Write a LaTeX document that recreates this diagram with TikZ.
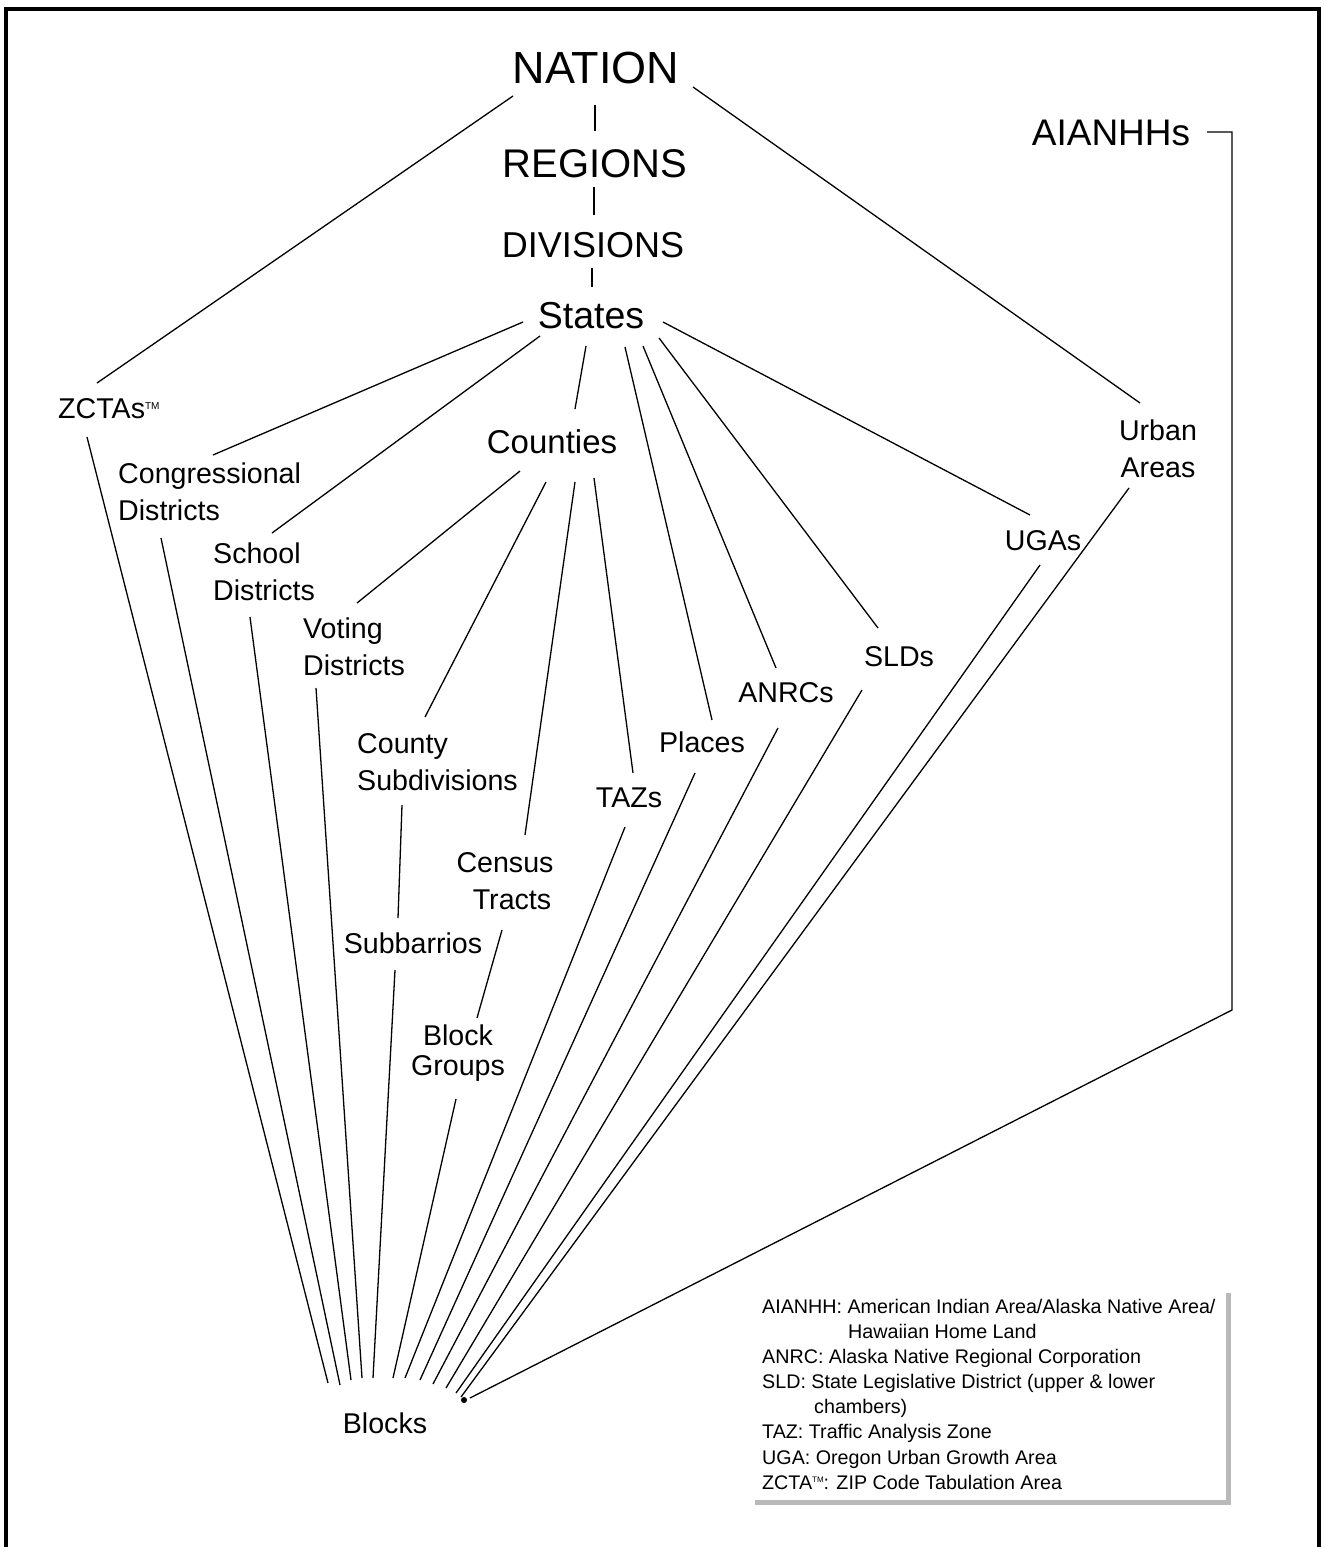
\documentclass[tikz,border=0pt]{standalone}
\usepackage{fontspec}
\setmainfont{Liberation Sans}
\begin{document}
\begin{tikzpicture}[x=1pt,y=-1pt,
  lbl/.style={inner sep=0pt, font=\fontsize{28.6}{37}\selectfont},
  ln/.style={line width=1.3pt, black},
  framestyle/.style={line width=3.5pt, black},
  shadowstyle/.style={line width=5pt, gray!55}]
\useasboundingbox (0,0) rectangle (1323,1547);
\fill[white] (0,0) rectangle (1323,1547);
% frame
\draw[framestyle] (6,1547) -- (6,9) -- (1319,9) -- (1319,1547);

% top hierarchy
\node[lbl, font=\fontsize{45}{50}\selectfont, anchor=base] (nation) at (596,83) {NATION};
\node[lbl, font=\fontsize{40}{44}\selectfont, anchor=base] (regions) at (595,177) {REGIONS};
\node[lbl, font=\fontsize{36}{40}\selectfont, anchor=base] (divisions) at (593,257) {DIVISIONS};
\node[lbl, font=\fontsize{37.5}{40}\selectfont, anchor=base] (states) at (591,328) {States};
\node[lbl, font=\fontsize{33}{36}\selectfont, anchor=base] (counties) at (552,453) {Counties};
\node[lbl, font=\fontsize{37}{40}\selectfont, anchor=base] (aianhh) at (1111,145) {AIANHHs};

% second level labels
\node[lbl, anchor=base west] (zcta) at (58,418) {ZCTAs\raisebox{9pt}{\fontsize{10}{10}\selectfont TM}};
\node[lbl, anchor=north west, align=left] (cong) at (118,463) {Congressional\\Districts};
\node[lbl, anchor=north west, align=left] (school) at (213,543) {School\\Districts};
\node[lbl, anchor=north west, align=left] (voting) at (303,618) {Voting\\Districts};
\node[lbl, anchor=north west, align=left] (csub) at (357,733) {County\\Subdivisions};
\node[lbl, anchor=north, align=center] (tracts) at (505,852) {Census\\\hspace*{14pt}Tracts};
\node[lbl, anchor=base] (subb) at (413,953) {Subbarrios};
\node[lbl, anchor=north, align=center, font=\fontsize{28.6}{30}\selectfont] (bg) at (458,1025) {Block\\Groups};
\node[lbl, anchor=base] (tazs) at (629,807) {TAZs};
\node[lbl, anchor=base] (places) at (702,752) {Places};
\node[lbl, anchor=base] (anrcs) at (786,702) {ANRCs};
\node[lbl, anchor=base] (slds) at (899,666) {SLDs};
\node[lbl, anchor=base] (ugas) at (1043,550) {UGAs};
\node[lbl, anchor=north, align=center] (urban) at (1158,420) {Urban\\Areas};
\node[lbl, anchor=base] (blocks) at (385,1433) {Blocks};

% vertical chain
\draw[ln] ([shift={(-1,22)}]nation.base) -- ([shift={(0,-46)}]regions.base);
\draw[ln] ([shift={(-1,10)}]regions.base) -- ([shift={(1,-42)}]divisions.base);
\draw[ln] ([shift={(-1,11)}]divisions.base) -- ([shift={(1,-41)}]states.base);

% from nation
\draw[ln] ([shift={(-83,13)}]nation.base) -- ([shift={(39,-35)}]zcta.base west);
\draw[ln] ([shift={(97,4)}]nation.base) -- ([shift={(-18,-17)}]urban.north);

% from states
\draw[ln] ([shift={(-68,-6)}]states.base) -- ([shift={(95,-8)}]cong.north west);
\draw[ln] ([shift={(-51,8)}]states.base) -- ([shift={(59,-10)}]school.north west);
\draw[ln] ([shift={(-5,18)}]states.base) -- ([shift={(23,-44)}]counties.base);
\draw[ln] ([shift={(34,19)}]states.base) -- ([shift={(10,-32)}]places.base);
\draw[ln] ([shift={(52,18)}]states.base) -- ([shift={(-10,-34)}]anrcs.base);
\draw[ln] ([shift={(68,10)}]states.base) -- ([shift={(-21,-38)}]slds.base);
\draw[ln] ([shift={(72,-6)}]states.base) -- ([shift={(-13,-35)}]ugas.base);

% from counties
\draw[ln] ([shift={(-32,18)}]counties.base) -- ([shift={(54,-15)}]voting.north west);
\draw[ln] ([shift={(-6,29)}]counties.base) -- ([shift={(68,-16)}]csub.north west);
\draw[ln] ([shift={(23,29)}]counties.base) -- ([shift={(20,-17)}]tracts.north);
\draw[ln] ([shift={(42,25)}]counties.base) -- ([shift={(4,-34)}]tazs.base);

% intermediate
\draw[ln] ([shift={(45,72)}]csub.north west) -- ([shift={(-15,-35)}]subb.base);
\draw[ln] ([shift={(-3,78)}]tracts.north) -- ([shift={(19,-7)}]bg.north);

% to blocks
\draw[ln] ([shift={(29,19)}]zcta.base west) -- ([shift={(-57,-50)}]blocks.base);
\draw[ln] ([shift={(43,75)}]cong.north west) -- ([shift={(-45,-48)}]blocks.base);
\draw[ln] ([shift={(37,74)}]school.north west) -- ([shift={(-34,-53)}]blocks.base);
\draw[ln] ([shift={(13,70)}]voting.north west) -- ([shift={(-23,-55)}]blocks.base);
\draw[ln] ([shift={(-18,17)}]subb.base) -- ([shift={(-12,-55)}]blocks.base);
\draw[ln] ([shift={(-2,74)}]bg.north) -- ([shift={(8,-55)}]blocks.base);
\draw[ln] ([shift={(-4,20)}]tazs.base) -- ([shift={(20,-55)}]blocks.base);
\draw[ln] ([shift={(-7,21)}]places.base) -- ([shift={(35,-53)}]blocks.base);
\draw[ln] ([shift={(-8,26)}]anrcs.base) -- ([shift={(48,-49)}]blocks.base);
\draw[ln] ([shift={(-37,24)}]slds.base) -- ([shift={(61,-45)}]blocks.base);
\draw[ln] ([shift={(-3,15)}]ugas.base) -- ([shift={(71,-40)}]blocks.base);
\draw[ln] ([shift={(-29,68)}]urban.north) -- ([shift={(76,-36)}]blocks.base);
\draw[ln] ([shift={(96,-13)}]aianhh.base) -- ++(25,0) -- ++(0,878) -- ([shift={(85,-35)}]blocks.base);
\fill ([shift={(79,-33)}]blocks.base) circle (3);

% legend
\node[inner sep=0pt, anchor=north west, align=left, font=\fontsize{19.7}{25.1}\selectfont] (legend) at (762,1299)
 {AIANHH: American Indian Area/Alaska Native Area/\\
  \hspace*{86pt}Hawaiian Home Land\\
  ANRC: Alaska Native Regional Corporation\\
  SLD: State Legislative District (upper \& lower\\
  \hspace*{52pt}chambers)\\
  TAZ: Traffic Analysis Zone\\
  UGA: Oregon Urban Growth Area\\
  ZCTA\raisebox{7pt}{\fontsize{8}{8}\selectfont TM}: ZIP Code Tabulation Area};
\draw[shadowstyle] (755,1502) -- (1228,1502) -- (1228,1293);
\end{tikzpicture}
\end{document}
